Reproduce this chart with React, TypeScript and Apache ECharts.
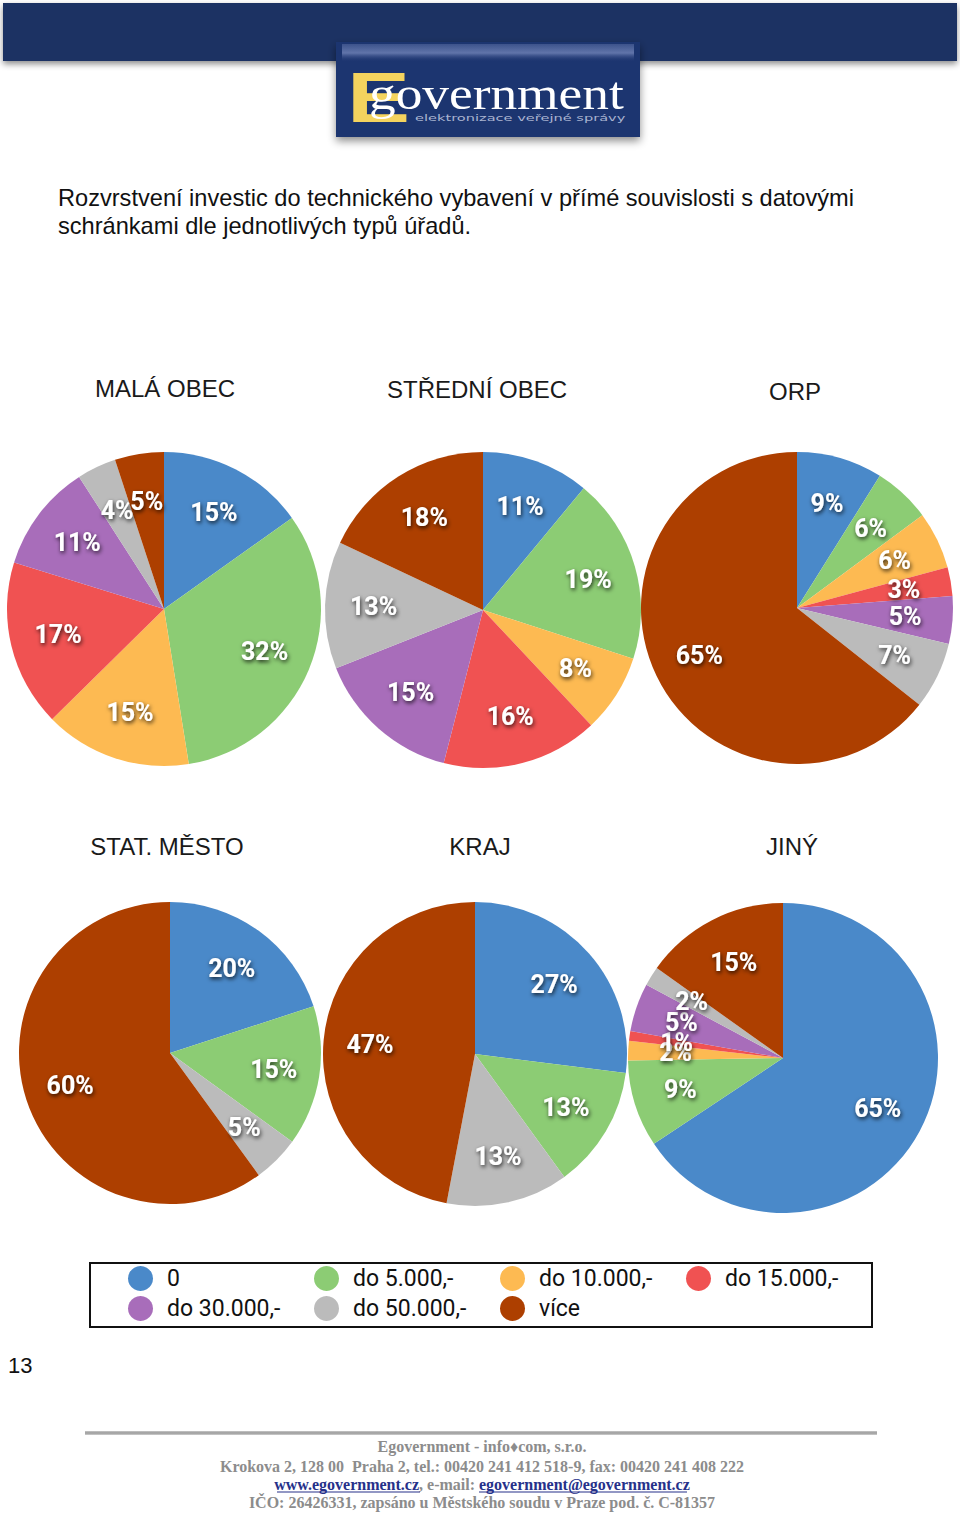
import React, { useEffect, useRef } from "react";
import * as echarts from "echarts";

const categories = ["0", "do 5.000,-", "do 10.000,-", "do 15.000,-", "do 30.000,-", "do 50.000,-", "více"];
const sliceColors = ["#4A89C9", "#8CCC74", "#FDBA52", "#F05252", "#A86DBA", "#BBBBBB", "#AD3F00"];

const pieTitles = ["MALÁ OBEC", "STŘEDNÍ OBEC", "ORP", "STAT. MĚSTO", "KRAJ", "JINÝ"];
const malaObec = [15, 32, 15, 17, 11, 4, 5];
const stredniObec = [11, 19, 8, 16, 15, 13, 18];
const orp = [9, 6, 6, 3, 5, 7, 65];
const statMesto = [20, 15, 0, 0, 0, 5, 60];
const kraj = [27, 13, 0, 0, 0, 13, 47];
const jiny = [65, 9, 2, 1, 5, 2, 15];
const pieValues = [malaObec, stredniObec, orp, statMesto, kraj, jiny];

const legendColumns = [
  ["0", "do 30.000,-"],
  ["do 5.000,-", "do 50.000,-"],
  ["do 10.000,-", "více"],
  ["do 15.000,-"],
];

const pieLayout = [
  { c: [164, 609], r: 157, t: [165, 388] },
  { c: [483, 610], r: 158, t: [477, 389] },
  { c: [797, 608], r: 156, t: [795, 391] },
  { c: [170, 1053], r: 151, t: [167, 846] },
  { c: [475, 1054], r: 152, t: [480, 846] },
  { c: [783, 1058], r: 155, t: [792, 846] },
];

const NAVY = "#1C3264";

export default function App() {
  const ref = useRef<HTMLDivElement>(null);

  useEffect(() => {
    if (!ref.current) return;
    const chart = echarts.init(ref.current, undefined, { renderer: "svg" });

    const series: any[] = [];
    pieValues.forEach((vals, i) => {
      const L = pieLayout[i];
      series.push({
        type: "pie",
        name: pieTitles[i],
        center: L.c,
        radius: [0, L.r],
        startAngle: 90,
        clockwise: true,
        silent: true,
        label: { show: false },
        labelLine: { show: false },
        emphasis: { disabled: true },
        itemStyle: { borderWidth: 0 },
        data: categories.map((name, k) => ({
          name,
          value: vals[k],
          itemStyle: { color: sliceColors[k] },
        })),
      });
    });
    pieValues.forEach((vals, i) => {
      const L = pieLayout[i];
      series.push({
        type: "pie",
        name: pieTitles[i] + " labels",
        center: L.c,
        radius: [Math.round(L.r * 0.35), L.r],
        startAngle: 90,
        clockwise: true,
        silent: true,
        avoidLabelOverlap: false,
        labelLayout: { hideOverlap: false },
        emphasis: { disabled: true },
        itemStyle: { color: "rgba(0,0,0,0)", borderWidth: 0 },
        labelLine: { show: false },
        label: {
          show: true,
          position: "inside",
          formatter: (p: any) => (p.value === 0 ? "" : p.value + "%"),
          color: "#ffffff",
          fontSize: 25,
          fontWeight: "bold",
          fontFamily: 'Roboto, "Liberation Sans", sans-serif',
          textShadowColor: "rgba(0,0,0,0.8)",
          textShadowBlur: 4,
          textShadowOffsetX: 1,
          textShadowOffsetY: 2,
        },
        data: categories.map((name, k) => ({ name, value: vals[k] })),
      });
    });

    const legendLeft = [128, 314, 500, 686];
    const legends = legendColumns.map((col, i) => ({
      orient: "vertical",
      left: legendLeft[i],
      top: 1266,
      padding: 0,
      itemWidth: 25,
      itemHeight: 25,
      itemGap: 5,
      icon: "circle",
      selectedMode: false,
      data: col,
      textStyle: {
        fontSize: 23,
        color: "#111",
        fontFamily: 'Roboto, "Liberation Sans", sans-serif',
        padding: [0, 0, 0, 9],
      },
    }));

    const titleTexts = pieTitles.map((t, i) => ({
      type: "text",
      x: pieLayout[i].t[0],
      y: pieLayout[i].t[1],
      style: {
        text: t,
        fill: "#1a1a1a",
        fontSize: 24,
        fontFamily: '"Liberation Sans", Arial, sans-serif',
        textAlign: "center",
        textVerticalAlign: "middle",
      },
    }));

    const footerFont = '"Liberation Serif", "Times New Roman", serif';
    const footerGray = "#8c8c8c";
    const linkBlue = "#26318a";

    const graphic: any[] = [
      // header bar
      {
        type: "rect",
        shape: { x: 3, y: 3, width: 954, height: 58 },
        style: { fill: NAVY, shadowBlur: 6, shadowColor: "rgba(0,0,0,0.45)", shadowOffsetY: 3 },
      },
      // logo box
      {
        type: "rect",
        shape: { x: 336, y: 42, width: 304, height: 95 },
        style: { fill: "#1E3470", shadowBlur: 8, shadowColor: "rgba(0,0,0,0.45)", shadowOffsetY: 4 },
      },
      {
        type: "rect",
        shape: { x: 342, y: 44, width: 292, height: 18 },
        style: {
          fill: {
            type: "linear", x: 0, y: 0, x2: 0, y2: 1,
            colorStops: [
              { offset: 0, color: "rgba(120,138,190,0.35)" },
              { offset: 0.5, color: "rgba(120,138,190,0.75)" },
              { offset: 1, color: "rgba(30,52,112,0)" },
            ],
          },
        },
      },
      {
        type: "text",
        x: 347,
        y: 98,
        scaleX: 1.35,
        style: {
          text: "E",
          fill: "#F4D35E",
          fontSize: 70,
          fontWeight: "bold",
          fontFamily: '"Liberation Sans", Arial, sans-serif',
          textVerticalAlign: "middle",
        },
      },
      {
        type: "text",
        x: 369,
        y: 94,
        scaleX: 1.16,
        style: {
          text: "government",
          fill: "#ffffff",
          fontSize: 46,
          fontFamily: '"Liberation Serif", "Times New Roman", serif',
          textVerticalAlign: "middle",
        },
      },
      {
        type: "text",
        x: 415,
        y: 118,
        scaleX: 1.62,
        style: {
          text: "elektronizace veřejné správy",
          fill: "#aab4d0",
          fontSize: 9,
          fontFamily: '"DejaVu Sans", sans-serif',
          textVerticalAlign: "middle",
        },
      },
      // main title
      {
        type: "text",
        x: 58,
        y: 198,
        style: {
          text: "Rozvrstvení investic do technického vybavení v přímé souvislosti s datovými",
          fill: "#111",
          fontSize: 23.6,
          fontFamily: '"Liberation Sans", Arial, sans-serif',
          textVerticalAlign: "middle",
        },
      },
      {
        type: "text",
        x: 58,
        y: 226,
        style: {
          text: "schránkami dle jednotlivých typů úřadů.",
          fill: "#111",
          fontSize: 23.6,
          fontFamily: '"Liberation Sans", Arial, sans-serif',
          textVerticalAlign: "middle",
        },
      },
      ...titleTexts,
      // legend frame
      {
        type: "rect",
        shape: { x: 90, y: 1263, width: 782, height: 64 },
        style: { fill: "none", stroke: "#111", lineWidth: 2 },
      },
      // page number
      {
        type: "text",
        x: 8,
        y: 1365,
        style: {
          text: "13",
          fill: "#111",
          fontSize: 22,
          fontFamily: '"Liberation Sans", Arial, sans-serif',
          textVerticalAlign: "middle",
        },
      },
      // footer rule
      {
        type: "rect",
        shape: { x: 85, y: 1431, width: 792, height: 4 },
        style: {
          fill: {
            type: "linear", x: 0, y: 0, x2: 0, y2: 1,
            colorStops: [
              { offset: 0, color: "#c8c8c8" },
              { offset: 0.5, color: "#9a9a9a" },
              { offset: 1, color: "#d0d0d0" },
            ],
          },
        },
      },
      {
        type: "text",
        x: 482,
        y: 1446,
        style: {
          text: "Egovernment - info♦com, s.r.o.",
          fill: footerGray,
          fontSize: 16,
          fontWeight: "bold",
          fontFamily: footerFont,
          textAlign: "center",
          textVerticalAlign: "middle",
        },
      },
      {
        type: "text",
        x: 482,
        y: 1466,
        style: {
          text: "Krokova 2, 128 00  Praha 2, tel.: 00420 241 412 518-9, fax: 00420 241 408 222",
          fill: footerGray,
          fontSize: 16,
          fontWeight: "bold",
          fontFamily: footerFont,
          textAlign: "center",
          textVerticalAlign: "middle",
        },
      },
      {
        type: "text",
        x: 482,
        y: 1484,
        style: {
          text: "{a|www.egovernment.cz}{b|, e-mail: }{a|egovernment@egovernment.cz}",
          fontSize: 16,
          fontWeight: "bold",
          fontFamily: footerFont,
          textAlign: "center",
          textVerticalAlign: "middle",
          rich: {
            a: { fill: linkBlue, fontSize: 16, fontWeight: "bold", fontFamily: footerFont },
            b: { fill: footerGray, fontSize: 16, fontWeight: "bold", fontFamily: footerFont },
          },
        },
      },
      {
        type: "line",
        shape: { x1: 277, y1: 1492, x2: 420, y2: 1492 },
        style: { stroke: linkBlue, lineWidth: 1.2 },
      },
      {
        type: "line",
        shape: { x1: 479, y1: 1492, x2: 687, y2: 1492 },
        style: { stroke: linkBlue, lineWidth: 1.2 },
      },
      {
        type: "text",
        x: 482,
        y: 1502,
        style: {
          text: "IČO: 26426331, zapsáno u Městského soudu v Praze pod. č. C-81357",
          fill: footerGray,
          fontSize: 16,
          fontWeight: "bold",
          fontFamily: footerFont,
          textAlign: "center",
          textVerticalAlign: "middle",
        },
      },
    ];

    chart.setOption({
      animation: false,
      backgroundColor: "#ffffff",
      legend: legends,
      series,
      graphic,
    });

    return () => chart.dispose();
  }, []);

  return (
    <div
      ref={ref}
      style={{ position: "absolute", left: 0, top: 0, width: 960, height: 1514 }}
    />
  );
}
